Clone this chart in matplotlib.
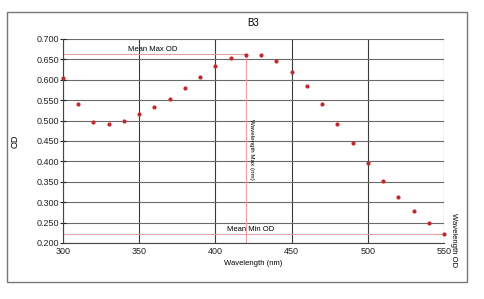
import matplotlib

matplotlib.use("Agg")
import matplotlib.pyplot as plt
from matplotlib.patches import Rectangle

wavelength = [300, 310, 320, 330, 340, 350, 360, 370, 380, 390, 400, 410, 420,
              430, 440, 450, 460, 470, 480, 490, 500, 510, 520, 530, 540, 550]
od = [0.605, 0.540, 0.497, 0.491, 0.500, 0.515, 0.533, 0.553, 0.580, 0.608,
      0.635, 0.653, 0.662, 0.660, 0.645, 0.620, 0.585, 0.541, 0.491, 0.445,
      0.397, 0.352, 0.312, 0.278, 0.248, 0.221]
mean_max_od = 0.663
mean_min_od = 0.223
wavelength_max = 420
wavelength_min = 550

plt.rcParams["font.family"] = ["Liberation Sans", "DejaVu Sans"]

fig = plt.figure(figsize=(4.85, 2.99), dpi=100)
ax = fig.add_axes([63 / 485, 1 - 243 / 299, (444 - 63) / 485, (243 - 39) / 299])

fig.patches.append(Rectangle((7 / 485, 1 - 282 / 299), 460 / 485, 270 / 299,
                             transform=fig.transFigure, fill=False,
                             edgecolor="#777777", linewidth=1.0))

pink = "#e8a0a8"
ax.plot([300, wavelength_max], [mean_max_od, mean_max_od], color=pink, lw=0.8, zorder=2)
ax.plot([wavelength_max, wavelength_max], [0.2, mean_max_od], color=pink, lw=0.8, zorder=2)
ax.plot([300, wavelength_min], [mean_min_od, mean_min_od], color=pink, lw=0.8, zorder=2)

ax.scatter(wavelength, od, s=4, color="#c0282c", zorder=4, clip_on=False)

ax.text(359, mean_max_od + 0.002, "Mean Max OD", ha="center", va="bottom", fontsize=5.5)
ax.text(423, mean_min_od + 0.002, "Mean Min OD", ha="center", va="bottom", fontsize=5.5)
ax.text(wavelength_max + 2, 0.43, "Wavelength Max (nm)", rotation=-90,
        ha="left", va="center", fontsize=4.5)
ax.text(wavelength_min + 4, 0.207, "Wavelength OD", rotation=-90,
        ha="left", va="center", fontsize=5.5, clip_on=False)

ax.set_xlim(300, 550)
ax.set_ylim(0.2, 0.7)
ax.set_xticks(range(300, 551, 50))
ax.set_yticks([0.2 + 0.05 * i for i in range(11)])
ax.set_yticklabels([f"{0.2 + 0.05 * i:.3f}" for i in range(11)])
ax.grid(True, axis="y", color="#6a6a6a", linewidth=0.8)
ax.grid(True, axis="x", color="#3a3a3a", linewidth=0.8)
ax.set_axisbelow(True)
for side in ["top", "right"]:
    ax.spines[side].set_visible(False)
for side in ["left", "bottom"]:
    ax.spines[side].set_color("#444444")
    ax.spines[side].set_linewidth(0.8)
ax.tick_params(axis="y", direction="inout", length=4, width=0.8, labelsize=6.5,
               colors="#222222", pad=1)
ax.tick_params(axis="x", length=0, labelsize=6.5, colors="#222222", pad=3)

ax.set_title("B3", fontsize=7, pad=9)
ax.set_xlabel("Wavelength (nm)", fontsize=5.5, labelpad=3)
ax.set_ylabel("OD", fontsize=6.5, labelpad=12)

fig.savefig("out.png", dpi=100)
